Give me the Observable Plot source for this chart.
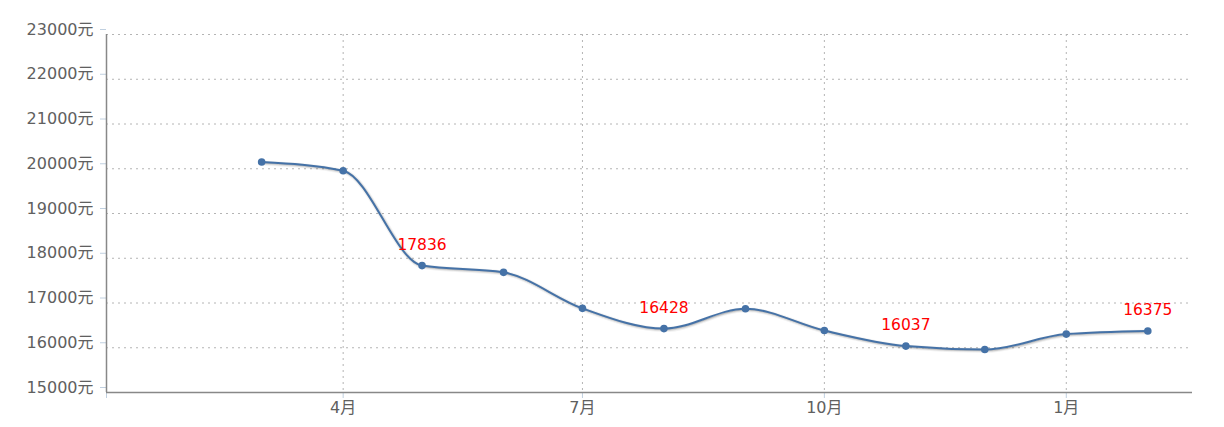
<!DOCTYPE html>
<html>
<head>
<meta charset="utf-8">
<script src="https://cdn.jsdelivr.net/npm/d3@7"></script>
<script src="https://cdn.jsdelivr.net/npm/@observablehq/plot@0.6"></script>
<style>
  html, body { margin: 0; padding: 0; background: #fff; }
  #chart svg { display: block; }
</style>
</head>
<body>
<div id="chart"></div>
<script>
// ---- data ----
const months = ["3月","4月","5月","6月","7月","8月","9月","10月","11月","12月","1月","2月"];
const dates = ["2017-03-01","2017-04-01","2017-05-01","2017-06-01","2017-07-01","2017-08-01",
               "2017-09-01","2017-10-01","2017-11-01","2017-12-01","2018-01-01","2018-02-01"];
const prices = [20150, 19955, 17836, 17685, 16880, 16428, 16870, 16385, 16037, 15960, 16305, 16375];
const labeledMonths = ["5月","8月","11月","2月"];
const yTicks = [15000,16000,17000,18000,19000,20000,21000,22000,23000];
const xTickDates = ["2017-04-01","2017-07-01","2017-10-01","2018-01-01"];
const xTickLabels = ["4月","7月","10月","1月"];
const xDomain = ["2017-01-01","2018-02-18"];

// ---- build table ----
const data = months.map((m, i) => ({month: m, date: new Date(dates[i]), price: prices[i]}));
const labeled = data.filter(d => labeledMonths.includes(d.month));
const xt = xTickDates.map(d => new Date(d));
const xLabel = new Map(xTickDates.map((d, i) => [new Date(d).getTime(), xTickLabels[i]]));
const x0 = new Date(xDomain[0]);

const lineColor = "#4572A7";
const font = "'DejaVu Sans', 'Noto Sans CJK SC', sans-serif";
const gridStyle = {stroke: "#b4b4b4", strokeDasharray: "2,4", strokeWidth: 1};

const chart = Plot.plot({
  width: 1224,
  height: 427,
  marginLeft: 106,
  marginRight: 32,
  marginTop: 34,
  marginBottom: 35,
  style: {fontFamily: font, fontSize: "16px", color: "#606060", background: "#fff"},
  x: {type: "utc", domain: xDomain.map(d => new Date(d))},
  y: {domain: [15000, 23000]},
  marks: [
    Plot.ruleY(yTicks.filter(v => v > 15000), gridStyle),
    Plot.ruleX(xt, gridStyle),
    Plot.axisY({ticks: yTicks, tickSize: 6, tickPadding: 7, stroke: "#C0D0E0",
      tickFormat: d => d + "元", dy: -5, fill: "#606060", fontSize: 16, label: null}),
    Plot.axisX({ticks: xt, tickSize: 6, tickPadding: 3, stroke: "#C0D0E0",
      tickFormat: d => xLabel.get(d.getTime()), fill: "#606060", fontSize: 16, label: null}),
    Plot.ruleX([x0], {stroke: "#C0D0E0", y1: 15000, y2: 15000, insetBottom: -6}),
    Plot.ruleX([x0], {stroke: "#888", strokeWidth: 1.5}),
    Plot.ruleY([15000], {stroke: "#888", strokeWidth: 1.5}),
    // shadow
    Plot.line(data, {x: "date", y: "price", curve: "monotone-x", stroke: "#000", strokeWidth: 5, strokeOpacity: 0.05, dx: 1, dy: 1}),
    Plot.line(data, {x: "date", y: "price", curve: "monotone-x", stroke: "#000", strokeWidth: 3, strokeOpacity: 0.1, dx: 1, dy: 1}),
    Plot.line(data, {x: "date", y: "price", curve: "monotone-x", stroke: "#000", strokeWidth: 1, strokeOpacity: 0.15, dx: 1, dy: 1}),
    Plot.line(data, {x: "date", y: "price", curve: "monotone-x", stroke: lineColor, strokeWidth: 2}),
    Plot.dot(data, {x: "date", y: "price", r: 3.8, fill: lineColor, stroke: "none"}),
    Plot.text(labeled, {x: "date", y: "price", text: d => String(d.price), fill: "#ff0000", dy: -21, fontSize: 15.5})
  ]
});
document.getElementById("chart").appendChild(chart);
</script>
</body>
</html>
